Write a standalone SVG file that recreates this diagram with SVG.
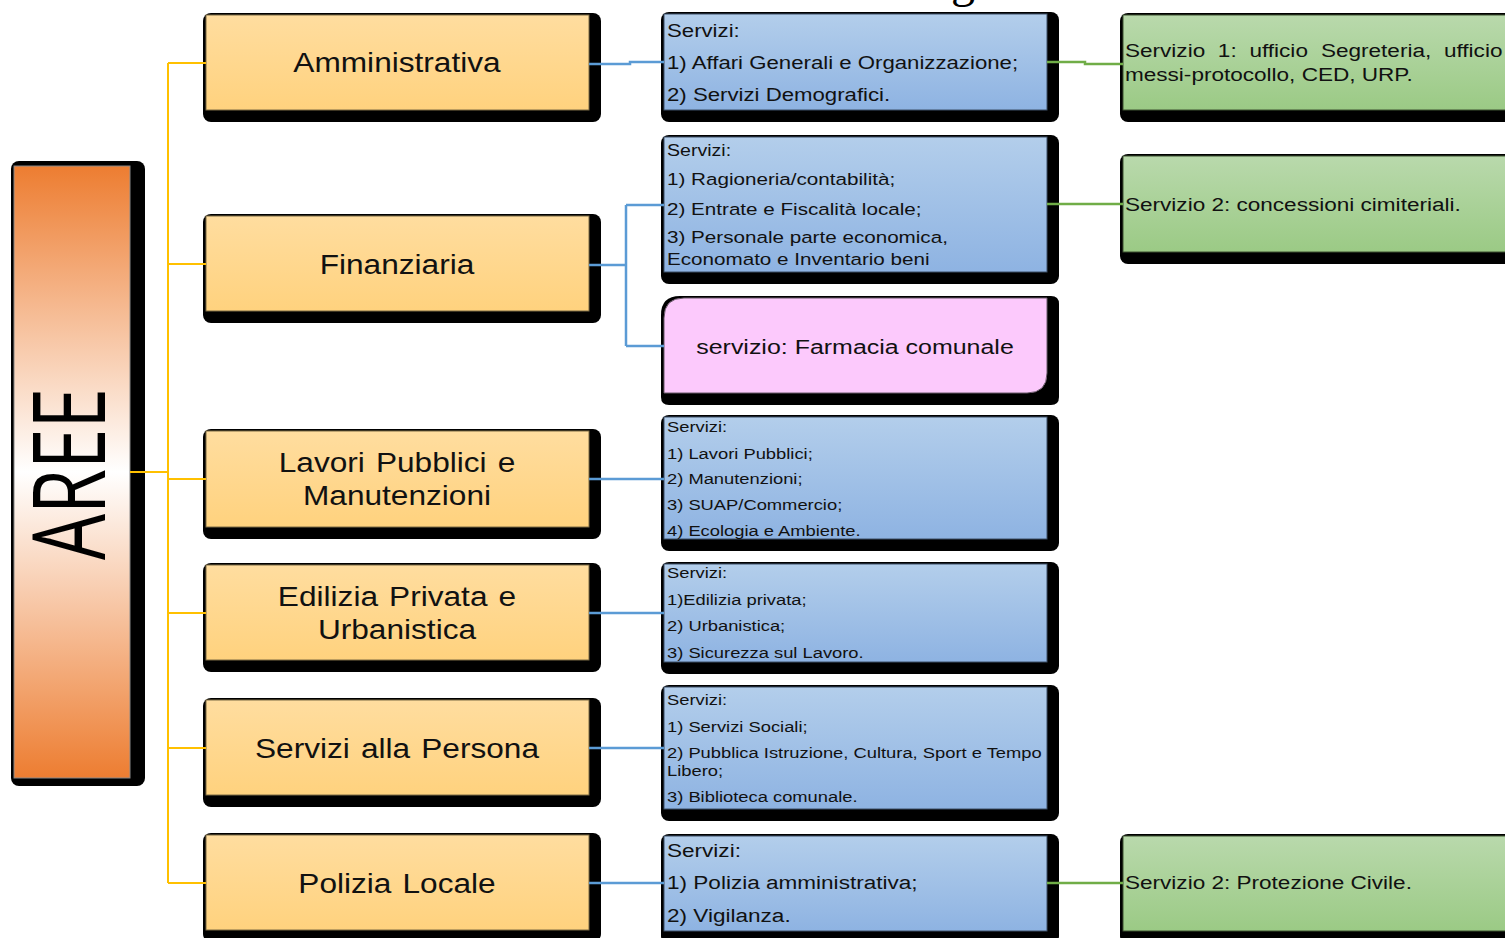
<svg xmlns="http://www.w3.org/2000/svg" width="1505" height="938" viewBox="0 0 1505 938">
<defs>
<linearGradient id="gOr" x1="0" y1="0" x2="0" y2="1"><stop offset="0" stop-color="#FFDD9F"/><stop offset="1" stop-color="#FFD27E"/></linearGradient>
<linearGradient id="gBl" x1="0" y1="0" x2="0" y2="1"><stop offset="0" stop-color="#B3CEEB"/><stop offset="1" stop-color="#8EB3E2"/></linearGradient>
<linearGradient id="gGr" x1="0" y1="0" x2="0" y2="1"><stop offset="0" stop-color="#B9D9AC"/><stop offset="1" stop-color="#9BCA85"/></linearGradient>
<linearGradient id="gAr" x1="0" y1="0" x2="0" y2="1"><stop offset="0" stop-color="#ED7D31"/><stop offset="0.5" stop-color="#FFFFFF"/><stop offset="1" stop-color="#ED7D31"/></linearGradient>
</defs>
<style>
.sh{fill:#000}
.or{fill:url(#gOr);stroke:#7A6A44;stroke-width:1}
.bl{fill:url(#gBl);stroke:#3D4F66;stroke-width:1}
.gr{fill:url(#gGr);stroke:#3C5030;stroke-width:1}
.pk{fill:#FCC9FC;stroke:#6A5A6A;stroke-width:1}
text{font-family:"Liberation Sans",Arial,sans-serif;fill:#111}
.ot{font-size:27.5px;text-anchor:middle;word-spacing:2px}
.yl{stroke:#FFC000;stroke-width:2;fill:none}
.bc{stroke:#5B9BD5;stroke-width:2.5;fill:none}
.gc{stroke:#70AD47;stroke-width:2.5;fill:none}
</style>

<text x="951" y="-3" style="font-family:'Liberation Serif',serif;font-size:48px;fill:#000">g</text>

<g id="aree">
<rect class="sh" x="11" y="161" width="134" height="625" rx="8"/>
<rect x="14" y="166" width="116" height="612" fill="url(#gAr)" stroke="#888" stroke-width="1"/>
<text transform="translate(105,474) rotate(-90)" x="0" y="0" style="font-family:'Open Sans','DejaVu Sans',sans-serif;font-size:100px;text-anchor:middle;fill:#000" textLength="172" lengthAdjust="spacingAndGlyphs">AREE</text>
</g>

<g id="amministrativa">
<rect class="sh" x="203" y="13" width="398" height="109" rx="8"/>
<rect class="or" x="206" y="15" width="383" height="95"/>
<text class="ot" transform="translate(397,0) scale(1.15,1)" x="0" y="72">Amministrativa</text>
</g>
<g id="finanziaria">
<rect class="sh" x="203" y="214" width="398" height="109" rx="8"/>
<rect class="or" x="206" y="216" width="383" height="95"/>
<text class="ot" transform="translate(397,0) scale(1.15,1)" x="0" y="274">Finanziaria</text>
</g>
<g id="lavori">
<rect class="sh" x="203" y="429" width="398" height="110" rx="8"/>
<rect class="or" x="206" y="431" width="383" height="96"/>
<text class="ot" transform="translate(397,0) scale(1.15,1)" x="0" y="472">Lavori Pubblici e</text>
<text class="ot" transform="translate(397,0) scale(1.15,1)" x="0" y="505">Manutenzioni</text>
</g>
<g id="edilizia">
<rect class="sh" x="203" y="563" width="398" height="109" rx="8"/>
<rect class="or" x="206" y="565" width="383" height="95"/>
<text class="ot" transform="translate(397,0) scale(1.15,1)" x="0" y="606">Edilizia Privata e</text>
<text class="ot" transform="translate(397,0) scale(1.15,1)" x="0" y="639">Urbanistica</text>
</g>
<g id="persona">
<rect class="sh" x="203" y="698" width="398" height="109" rx="8"/>
<rect class="or" x="206" y="700" width="383" height="95"/>
<text class="ot" transform="translate(397,0) scale(1.15,1)" x="0" y="758">Servizi alla Persona</text>
</g>
<g id="polizia">
<rect class="sh" x="203" y="833" width="398" height="109" rx="8"/>
<rect class="or" x="206" y="835" width="383" height="95"/>
<text class="ot" transform="translate(397,0) scale(1.15,1)" x="0" y="893">Polizia Locale</text>
</g>

<g id="serv-amm">
<rect class="sh" x="661" y="12" width="398" height="110" rx="8"/>
<rect class="bl" x="664" y="14" width="383" height="96"/>
<g transform="translate(667,0) scale(1.2,1)" style="font-size:18.5px">
<text x="0" y="37">Servizi:</text>
<text x="0" y="69">1) Affari Generali e Organizzazione;</text>
<text x="0" y="101">2) Servizi Demografici.</text>
</g>
</g>
<g id="serv-fin">
<rect class="sh" x="661" y="135" width="398" height="149" rx="8"/>
<rect class="bl" x="664" y="137" width="383" height="135"/>
<g transform="translate(667,0) scale(1.2,1)" style="font-size:17.2px">
<text x="0" y="156" style="font-size:16.3px">Servizi:</text>
<text x="0" y="185">1) Ragioneria/contabilità;</text>
<text x="0" y="215">2) Entrate e Fiscalità locale;</text>
<text x="0" y="243">3) Personale parte economica,</text>
<text x="0" y="265">Economato e Inventario beni</text>
</g>
</g>
<g id="farmacia">
<path class="sh" d="M680 296 H1051 Q1059 296 1059 304 V397 Q1059 405 1051 405 H669 Q661 405 661 397 V315 Q661 296 680 296 Z"/>
<path class="pk" d="M684 298 H1047 V373 Q1047 393 1027 393 H664 V318 Q664 298 684 298 Z"/>
<text transform="translate(855,0) scale(1.2,1)" x="0" y="354" style="font-size:20.8px;text-anchor:middle">servizio: Farmacia comunale</text>
</g>
<g id="serv-lav">
<rect class="sh" x="661" y="415" width="398" height="136" rx="8"/>
<rect class="bl" x="664" y="417" width="383" height="122"/>
<g transform="translate(667,0) scale(1.2,1)" style="font-size:15.3px">
<text x="0" y="432">Servizi:</text>
<text x="0" y="459">1) Lavori Pubblici;</text>
<text x="0" y="484">2) Manutenzioni;</text>
<text x="0" y="510">3) SUAP/Commercio;</text>
<text x="0" y="536">4) Ecologia e Ambiente.</text>
</g>
</g>
<g id="serv-edi">
<rect class="sh" x="661" y="562" width="398" height="112" rx="8"/>
<rect class="bl" x="664" y="564" width="383" height="98"/>
<g transform="translate(667,0) scale(1.2,1)" style="font-size:15.3px">
<text x="0" y="578">Servizi:</text>
<text x="0" y="605">1)Edilizia privata;</text>
<text x="0" y="631">2) Urbanistica;</text>
<text x="0" y="658">3) Sicurezza sul Lavoro.</text>
</g>
</g>
<g id="serv-per">
<rect class="sh" x="661" y="685" width="398" height="136" rx="8"/>
<rect class="bl" x="664" y="687" width="383" height="122"/>
<g transform="translate(667,0) scale(1.2,1)" style="font-size:15.3px">
<text x="0" y="705">Servizi:</text>
<text x="0" y="732">1) Servizi Sociali;</text>
<text x="0" y="758">2) Pubblica Istruzione, Cultura, Sport e Tempo</text>
<text x="0" y="776">Libero;</text>
<text x="0" y="802">3) Biblioteca comunale.</text>
</g>
</g>
<g id="serv-pol">
<rect class="sh" x="661" y="834" width="398" height="110" rx="8"/>
<rect class="bl" x="664" y="836" width="383" height="95"/>
<g transform="translate(667,0) scale(1.2,1)" style="font-size:18.8px">
<text x="0" y="857">Servizi:</text>
<text x="0" y="889">1) Polizia  amministrativa;</text>
<text x="0" y="922">2) Vigilanza.</text>
</g>
</g>

<g id="servizio1">
<rect class="sh" x="1120" y="13" width="420" height="109" rx="8"/>
<rect class="gr" x="1123" y="15" width="420" height="95"/>
<g transform="translate(1125,0) scale(1.2,1)" style="font-size:18.8px">
<text y="57"><tspan x="0">Servizio</tspan><tspan x="77.4">1:</tspan><tspan x="103.7">ufficio</tspan><tspan x="163.3">Segreteria,</tspan><tspan x="265.8">ufficio</tspan></text>
<text x="0" y="81">messi-protocollo, CED, URP.</text>
</g>
</g>
<g id="servizio2">
<rect class="sh" x="1120" y="154" width="420" height="110" rx="8"/>
<rect class="gr" x="1123" y="156" width="420" height="96"/>
<text transform="translate(1125,0) scale(1.2,1)" x="0" y="211" style="font-size:18.8px">Servizio 2: concessioni cimiteriali.</text>
</g>
<g id="protezione">
<rect class="sh" x="1120" y="834" width="420" height="110" rx="8"/>
<rect class="gr" x="1123" y="836" width="420" height="95"/>
<text transform="translate(1125,0) scale(1.2,1)" x="0" y="889" style="font-size:18.8px">Servizio 2: Protezione Civile.</text>
</g>

<g id="connectors">
<path class="yl" d="M130 472 H168 M168 63 V883 M168 63 H206 M168 264 H206 M168 479 H206 M168 613 H206 M168 748 H206 M168 883 H206"/>
<path class="bc" d="M589 64 H630 V62 H664 M589 265 H626 M626 205 V346 M626 205 H664 M626 346 H664 M589 479 H664 M589 613 H664 M589 748 H664 M589 883 H664"/>
<path class="gc" d="M1047 62 H1085 V64 H1123 M1047 204 H1123 M1047 883 H1123"/>
</g>
</svg>
